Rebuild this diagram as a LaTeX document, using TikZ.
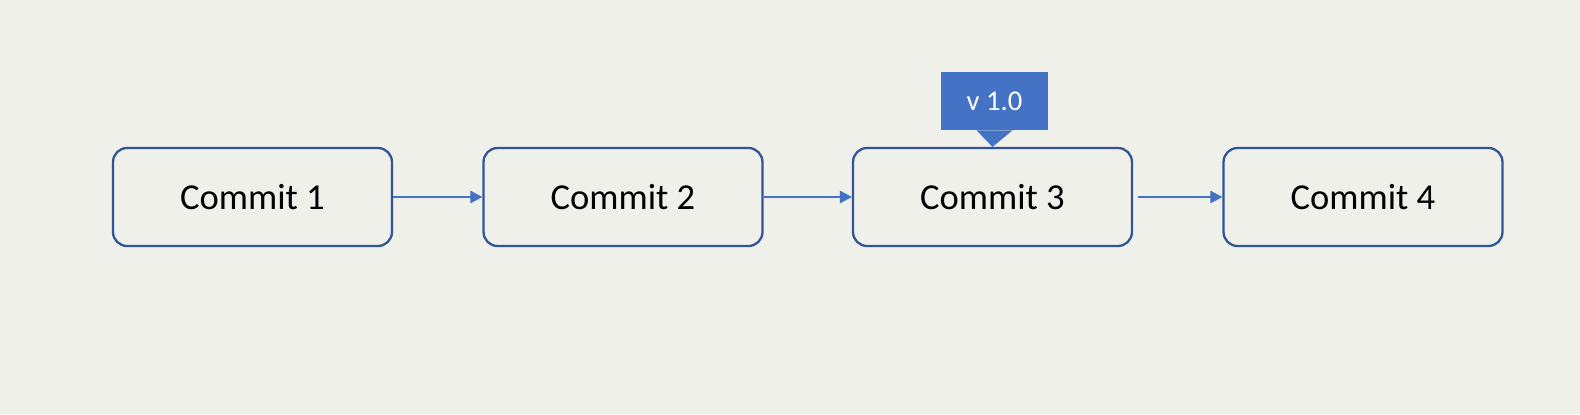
\documentclass[tikz,border=0pt]{standalone}
\usepackage{xcolor}
\usepackage{fontspec}
\setmainfont{Carlito}
\usetikzlibrary{arrows.meta}

\definecolor{bg}{HTML}{F0F0EB}
\definecolor{boxline}{HTML}{2F5597}
\definecolor{accent}{HTML}{4472C4}

\tikzset{
  commit/.style={draw=boxline, line width=1.3pt, fill=bg, rounded corners=0.28cm,
    minimum width=5.58cm, minimum height=1.96cm, font=\fontsize{20.8}{24}\selectfont},
  link/.style={draw=accent, line width=0.6pt, -{Triangle[length=0.24cm,width=0.25cm]}},
  tag/.style={fill=accent, text=white, minimum width=2.14cm, minimum height=1.16cm,
    font=\fontsize{16.3}{19}\selectfont}
}

\begin{document}
\begin{tikzpicture}[x=0.02cm,y=-0.02cm]

\fill[bg] (0,0) rectangle (1580,414);
\useasboundingbox (0,0) rectangle (1580,414);

\node[commit] (c1) at (252.5,197) {Commit 1};
\node[commit] (c2) at (623,197) {Commit 2};
\node[commit] (c3) at (992.5,197) {Commit 3};
\node[commit] (c4) at (1363,197) {Commit 4};

\draw[link] (c1) -- (c2);
\draw[link] (c2) -- (c3);
\draw[link, shorten <=0.1cm] (c3) -- (c4);

% release tag
\node[tag] (v10) at (994.5,101) {v 1.0};
\fill[accent] ([xshift=-0.36cm]v10.south) -- ([xshift=0.36cm]v10.south) -- (c3.north) -- cycle;

\end{tikzpicture}
\end{document}
